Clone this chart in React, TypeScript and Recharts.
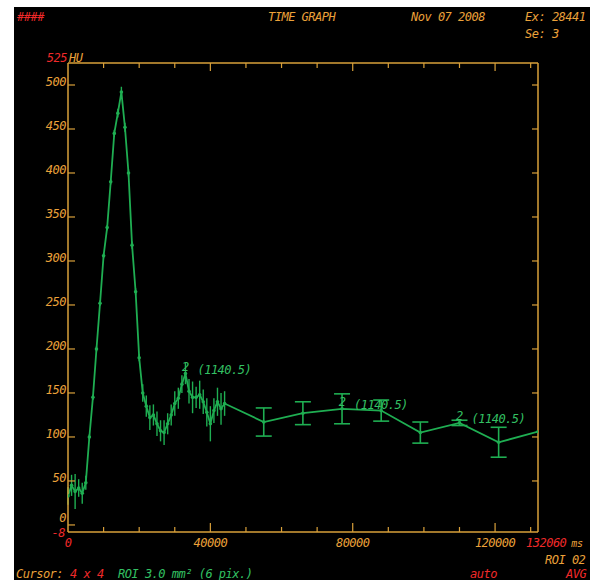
import React from 'react';
import { ComposedChart, Line, XAxis, YAxis, ErrorBar, LabelList } from 'recharts';

const ORANGE = '#eca23a';
const AXIS = '#d9a03a';
const RED = '#f02a2a';
const GREEN = '#1fae52';
const GREEN_TEXT = '#33c063';
const FONT = "'DejaVu Sans Mono', monospace";

// time (ms) of the densely sampled part
const denseTimes = [
  0, 1000, 2000, 3000, 4000, 5000, 6000, 7000, 8000, 9000,
  10000, 11000, 12000, 13000, 14000, 15000, 16000, 17000, 18000, 19000,
  20000, 21000, 22000, 23000, 24000, 25000, 26000, 27000, 28000, 29000,
  30000, 31000, 32000, 33000, 34000, 35000, 36000, 37000, 38000, 39000,
  40000, 41000, 42000, 43000, 44000,
];
// HU values of the dense part
const denseHU = [
  33, 45, 38, 42, 36, 48, 100, 145, 200, 252,
  306, 338, 390, 445, 468, 492, 452, 400, 318, 265,
  190, 150, 135, 122, 125, 115, 107, 105, 115, 125,
  138, 144, 160, 172, 152, 145, 145, 148, 140, 128,
  115, 130, 140, 132, 138,
];
// error (±HU) of the dense part
const denseErr = [
  10, 12, 20, 10, 12, 8, 3, 3, 3, 3,
  3, 3, 3, 4, 5, 6, 5, 4, 4, 4,
  4, 10, 12, 14, 12, 14, 12, 14, 12, 12,
  14, 12, 10, 12, 14, 18, 12, 16, 14, 16,
  20, 14, 16, 18, 14,
];
// sparse part
const sparseTimes = [55000, 66000, 77000, 88000, 99000, 110000, 121000, 132060];
const sparseHU = [117, 127, 132, 130, 105, 116, 94, 106];
const sparseErr = [16, 13, 17, 12, 12, 3, 17, 0];

// annotated points
const noteTimes = [33000, 77000, 110000];
const noteTag = '2';
const noteText = '(1140.5)';

// axis ticks
const yTicks = [-8, 0, 50, 100, 150, 200, 250, 300, 350, 400, 450, 500, 525];
const yRightTicks = [50, 100, 150, 200, 250, 300, 350, 400, 450, 500];
const xTicks = [0, 10000, 20000, 30000, 40000, 50000, 60000, 70000, 80000, 90000, 100000, 110000, 120000, 130000, 132060];
const xMajor = [40000, 80000, 120000];
const xDomainMax = 132060;
const yDomain = [-8, 525];

const data = [
  ...denseTimes.map((t, i) => ({
    t,
    hu: denseHU[i],
    errD: denseErr[i] || undefined,
    note: noteTimes.includes(t) ? noteTag : undefined,
  })),
  ...sparseTimes.map((t, i) => ({
    t,
    hu: sparseHU[i],
    errS: sparseErr[i] || undefined,
    note: noteTimes.includes(t) ? noteTag : undefined,
  })),
];

const txt = {
  fontFamily: FONT,
  fontStyle: 'italic' as const,
  fontSize: 12,
  letterSpacing: -0.5,
};

const LeftTick = (props: any) => {
  const { x, y, payload } = props;
  const v = payload.value;
  if (v === 525) {
    return (
      <g>
        <text x={x - 1} y={y - 1} textAnchor="end" fill={RED} style={txt}>525</text>
        <text x={x + 1} y={y - 1} textAnchor="start" fill={ORANGE} style={txt}>HU</text>
      </g>
    );
  }
  if (v === -8) {
    return (
      <text x={x - 3} y={y + 5} textAnchor="end" fill={RED} style={txt}>-8</text>
    );
  }
  return (
    <g>
      <line x1={x} y1={y} x2={x + 7} y2={y} stroke={AXIS} strokeWidth={1.2} />
      <text x={x - 2} y={v === 0 ? y - 3 : y + 1} textAnchor="end" fill={ORANGE} style={txt}>{v}</text>
    </g>
  );
};

const RightTick = (props: any) => {
  const { x, y } = props;
  return <line x1={x} y1={y} x2={x - 6} y2={y} stroke={AXIS} strokeWidth={1.2} />;
};

const BottomTick = (props: any) => {
  const { x, y, payload } = props;
  const v = payload.value;
  if (v === 0) {
    return <text x={x} y={y + 15} textAnchor="middle" fill={RED} style={txt}>0</text>;
  }
  if (v === xDomainMax) {
    return (
      <text x={x - 12} y={y + 15} textAnchor="start" style={txt}>
        <tspan fill={RED}>132060</tspan>
        <tspan fill={ORANGE} dx={5} style={{ fontSize: 10 }}>ms</tspan>
      </text>
    );
  }
  const major = xMajor.includes(v);
  return (
    <g>
      <line x1={x} y1={y} x2={x} y2={y - (major ? 9 : 5)} stroke={AXIS} strokeWidth={1.2} />
      {major && (
        <text x={x} y={y + 15} textAnchor="middle" fill={ORANGE} style={txt}>{v}</text>
      )}
    </g>
  );
};

const TopTick = (props: any) => {
  const { x, y, payload } = props;
  const v = payload.value;
  if (v === 0 || v === xDomainMax) return <g />;
  const major = xMajor.includes(v);
  return <line x1={x} y1={y} x2={x} y2={y + (major ? 8 : 5)} stroke={AXIS} strokeWidth={1.2} />;
};

const NoteLabel = (props: any) => {
  const { x, y, value } = props;
  if (!value) return null;
  return (
    <g>
      <text x={x} y={y - 3} textAnchor="middle" fill={GREEN_TEXT} style={txt}>{value}</text>
      <text x={x + 12} y={y} textAnchor="start" fill={GREEN_TEXT} style={txt}>{noteText}</text>
    </g>
  );
};

const T = ({ x, y, color, children }: any) => (
  <div
    style={{
      position: 'absolute',
      left: x,
      top: y - 7,
      height: 14,
      lineHeight: '14px',
      color,
      whiteSpace: 'nowrap',
      ...txt,
    }}
  >
    {children}
  </div>
);

export default function App() {
  return (
    <div style={{ position: 'absolute', left: 0, top: 0, width: 590, height: 580, background: '#ffffff', overflow: 'hidden' }}>
      <div style={{ position: 'absolute', left: 14, top: 7, width: 576, height: 573, background: '#000000' }} />
      <div style={{ position: 'absolute', left: 0, top: 0 }}>
        <ComposedChart
          width={590}
          height={580}
          data={data}
          margin={{ top: 53, right: 42, bottom: 28, left: 8 }}
        >
          <XAxis
            xAxisId="b"
            dataKey="t"
            type="number"
            domain={[0, xDomainMax]}
            ticks={xTicks}
            interval={0}
            height={20}
            orientation="bottom"
            axisLine={{ stroke: AXIS, strokeWidth: 1.5 }}
            tickLine={false}
            tickSize={0}
            tickMargin={0}
            tick={<BottomTick />}
            allowDataOverflow
          />
          <XAxis
            xAxisId="t"
            dataKey="t"
            type="number"
            domain={[0, xDomainMax]}
            ticks={xTicks}
            interval={0}
            height={10}
            orientation="top"
            axisLine={{ stroke: AXIS, strokeWidth: 1.5 }}
            tickLine={false}
            tickSize={0}
            tickMargin={0}
            tick={<TopTick />}
            allowDataOverflow
          />
          <YAxis
            yAxisId="l"
            type="number"
            domain={yDomain}
            ticks={yTicks}
            interval={0}
            width={60}
            orientation="left"
            axisLine={{ stroke: AXIS, strokeWidth: 1.5 }}
            tickLine={false}
            tickSize={0}
            tickMargin={0}
            tick={<LeftTick />}
            allowDataOverflow
          />
          <YAxis
            yAxisId="r"
            type="number"
            domain={yDomain}
            ticks={yRightTicks}
            interval={0}
            width={10}
            orientation="right"
            axisLine={{ stroke: AXIS, strokeWidth: 1.5 }}
            tickLine={false}
            tickSize={0}
            tickMargin={0}
            tick={<RightTick />}
            allowDataOverflow
          />
          <Line
            xAxisId="b"
            yAxisId="l"
            dataKey="hu"
            type="linear"
            stroke={GREEN}
            strokeWidth={1.8}
            dot={{ r: 1.8, fill: GREEN, stroke: GREEN, strokeWidth: 0 }}
            isAnimationActive={false}
          >
            <ErrorBar dataKey="errD" width={0} stroke={GREEN} strokeWidth={1.4} direction="y" />
            <ErrorBar dataKey="errS" width={8} stroke={GREEN} strokeWidth={1.6} direction="y" />
            <LabelList dataKey="note" content={<NoteLabel />} />
          </Line>
        </ComposedChart>
      </div>
      <T x={17} y={17} color={RED}>####</T>
      <T x={268} y={17} color={ORANGE}>TIME GRAPH</T>
      <T x={411} y={17} color={ORANGE}>Nov 07 2008</T>
      <T x={525} y={17} color={ORANGE}>Ex: 28441</T>
      <T x={525} y={34} color={ORANGE}>Se: 3</T>
      <T x={545} y={560} color={ORANGE}>ROI 02</T>
      <T x={16} y={574} color={ORANGE}>Cursor:</T>
      <T x={70} y={574} color={RED}>4 x 4</T>
      <T x={118} y={574} color={GREEN_TEXT}>ROI 3.0 mm² (6 pix.)</T>
      <T x={470} y={574} color={RED}>auto</T>
      <T x={566} y={574} color={RED}>AVG</T>
    </div>
  );
}
